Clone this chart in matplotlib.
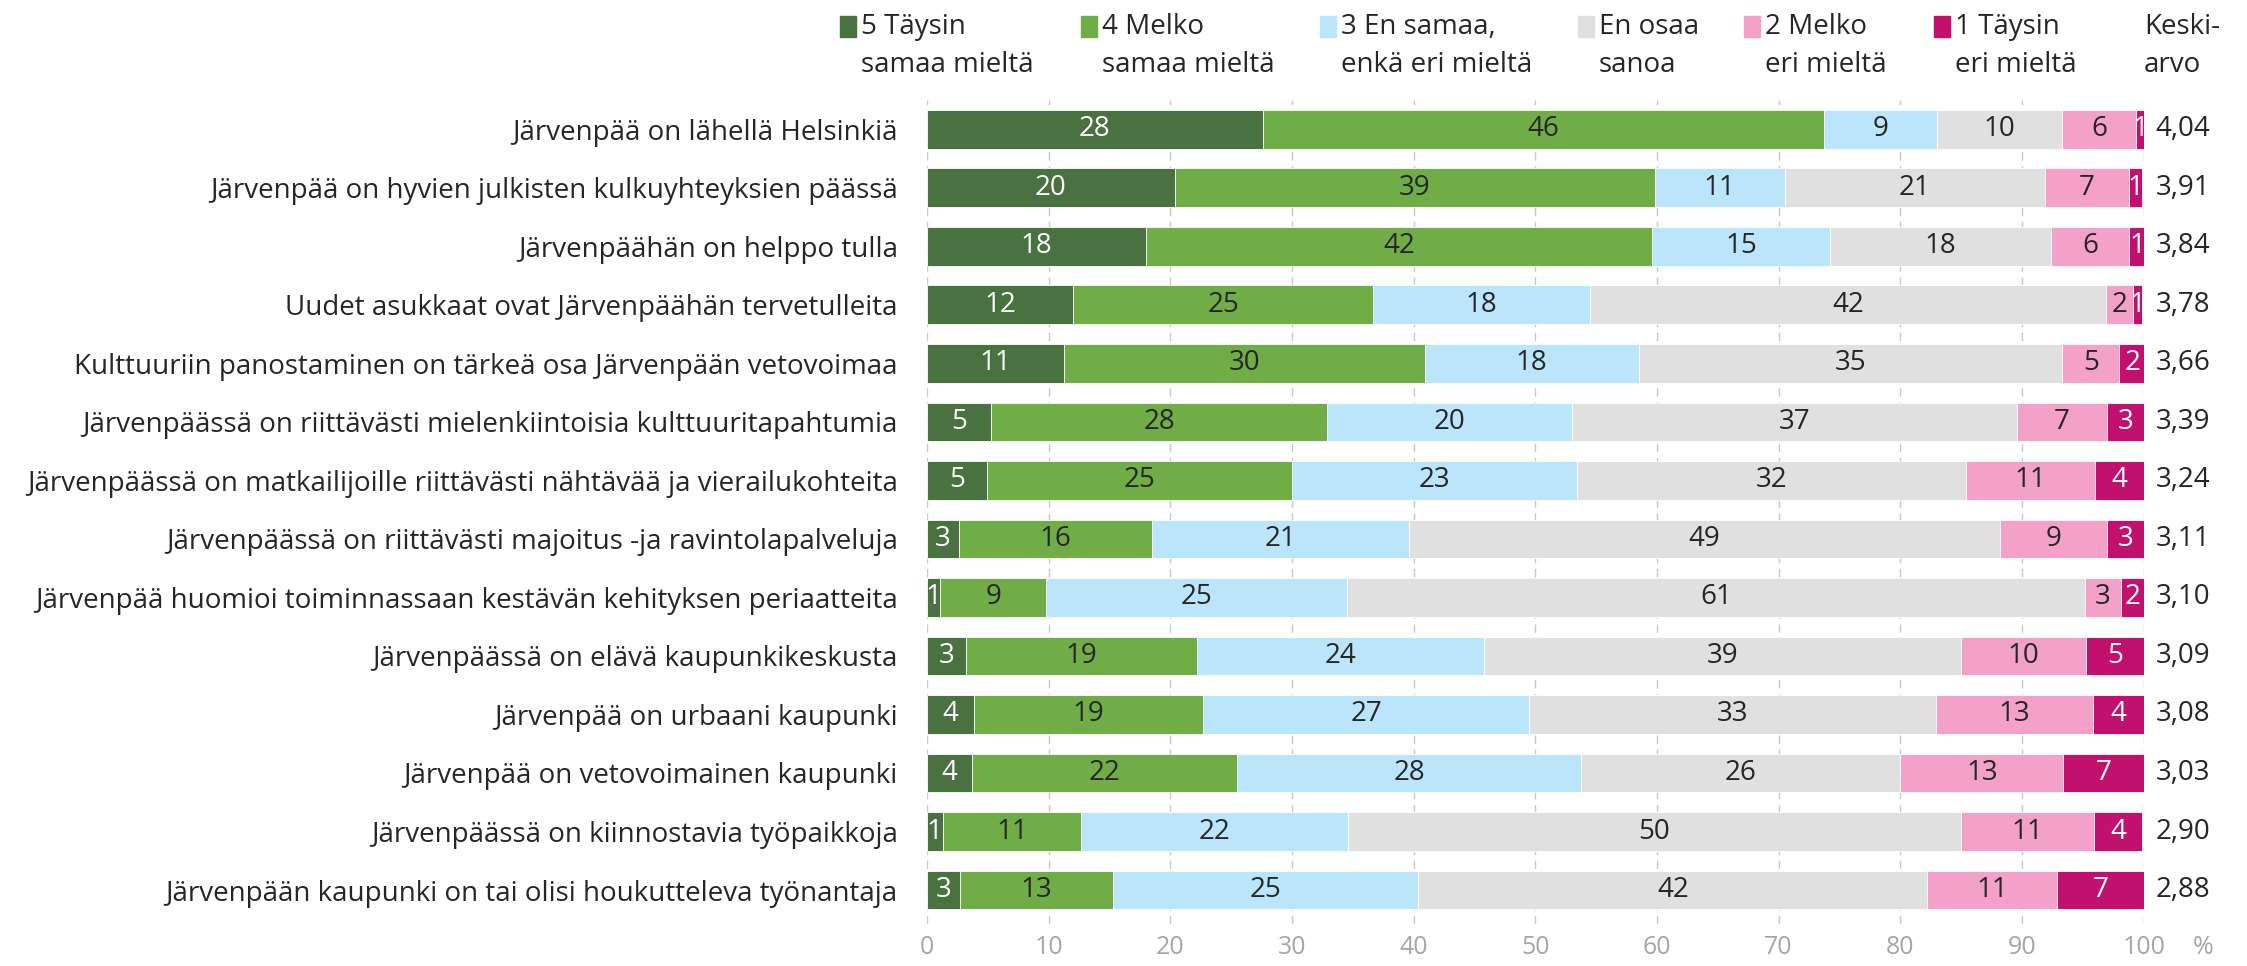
import matplotlib.pyplot as plt
from matplotlib.patches import Rectangle

plt.rcParams['font.family'] = ['Open Sans', 'DejaVu Sans']

# Data from the chart (shares in %, top row first)
statements = [
    "Järvenpää on lähellä Helsinkiä",
    "Järvenpää on hyvien julkisten kulkuyhteyksien päässä",
    "Järvenpäähän on helppo tulla",
    "Uudet asukkaat ovat Järvenpäähän tervetulleita",
    "Kulttuuriin panostaminen on tärkeä osa Järvenpään vetovoimaa",
    "Järvenpäässä on riittävästi mielenkiintoisia kulttuuritapahtumia",
    "Järvenpäässä on matkailijoille riittävästi nähtävää ja vierailukohteita",
    "Järvenpäässä on riittävästi majoitus -ja ravintolapalveluja",
    "Järvenpää huomioi toiminnassaan kestävän kehityksen periaatteita",
    "Järvenpäässä on elävä kaupunkikeskusta",
    "Järvenpää on urbaani kaupunki",
    "Järvenpää on vetovoimainen kaupunki",
    "Järvenpäässä on kiinnostavia työpaikkoja",
    "Järvenpään kaupunki on tai olisi houkutteleva työnantaja",
]
täysin_samaa = [27.6, 20.4, 18.0, 12.0, 11.3, 5.3, 4.9, 2.6, 1.1, 3.2, 3.9, 3.7, 1.3, 2.7]
melko_samaa = [46.1, 39.4, 41.6, 24.7, 29.6, 27.6, 25.1, 15.9, 8.7, 19.0, 18.8, 21.8, 11.4, 12.6]
ei_samaa_eri = [9.3, 10.7, 14.6, 17.8, 17.6, 20.1, 23.4, 21.1, 24.7, 23.6, 26.8, 28.3, 21.9, 25.1]
en_osaa = [10.3, 21.4, 18.2, 42.4, 34.8, 36.6, 32.0, 48.6, 60.7, 39.2, 33.4, 26.2, 50.4, 41.8]
melko_eri = [6.1, 6.9, 6.4, 2.2, 4.7, 7.4, 10.6, 8.8, 2.9, 10.3, 12.9, 13.4, 10.9, 10.7]
täysin_eri = [0.7, 1.1, 1.3, 0.8, 2.1, 3.1, 4.0, 3.1, 1.9, 4.7, 4.2, 6.6, 4.0, 7.1]
keskiarvo = ["4,04", "3,91", "3,84", "3,78", "3,66", "3,39", "3,24", "3,11", "3,10",
             "3,09", "3,08", "3,03", "2,90", "2,88"]

series = [täysin_samaa, melko_samaa, ei_samaa_eri, en_osaa, melko_eri, täysin_eri]
legend_labels = ["5 Täysin\nsamaa mieltä", "4 Melko\nsamaa mieltä", "3 En samaa,\nenkä eri mieltä",
                 "En osaa\nsanoa", "2 Melko\neri mieltä", "1 Täysin\neri mieltä"]
colors = ['#4A7140', '#70AD47', '#BAE5FA', '#E0E0E0', '#F3A1C8', '#C2106E']
text_colors = ['white', '#262626', '#262626', '#262626', '#262626', 'white']
fs = 20

fig = plt.figure(figsize=(22.47, 9.66), dpi=100)
ax = fig.add_axes([0.4125, 0.0435, 0.5415, 0.853])

y = list(range(len(statements)))
left = [0.0] * len(statements)
for vals, col, tcol in zip(series, colors, text_colors):
    bars = ax.barh(y, vals, left=left, height=0.66, color=col, edgecolor='white',
                   linewidth=0.6, zorder=2)
    for bar, v in zip(bars, vals):
        ax.text(bar.get_x() + bar.get_width() / 2, bar.get_y() + bar.get_height() / 2,
                f'{v:.0f}', ha='center', va='center', color=tcol, fontsize=fs, zorder=3)
    left = [a + b for a, b in zip(left, vals)]

# Mean column
for yi, m in zip(y, keskiarvo):
    ax.text(101.0, yi, m, ha='left', va='center', fontsize=fs, color='#262626', clip_on=False)

ax.set_xlim(0, 100)
ax.set_ylim(13.58, -0.5)
ax.set_yticks(y, statements, fontsize=fs, color='#262626')
ax.set_xticks(range(0, 101, 10))
ax.tick_params(axis='x', length=0, labelsize=18, labelcolor='#A6A6A6', pad=8)
ax.tick_params(axis='y', length=0, pad=21)
ax.annotate('%', xy=(104.9, 0), xycoords=('data', 'axes fraction'), xytext=(0, -8),
            textcoords='offset points', ha='center', va='top', fontsize=18,
            color='#A6A6A6', annotation_clip=False)
for s in ax.spines.values():
    s.set_visible(False)
ax.grid(axis='x', color='#C8C8C8', linestyle=(0, (6, 4)), linewidth=1, zorder=0)
ax.set_axisbelow(True)

# Legend row across the top
legend_x = [840, 1081, 1320, 1578, 1744, 1934]
W, H = 2247, 966
for lx, lab, col in zip(legend_x, legend_labels, colors):
    fig.patches.append(Rectangle((lx / W, 1 - 37 / H), 16 / W, 21 / H, color=col,
                                 transform=fig.transFigure, figure=fig))
    line1, line2 = lab.split('\n')
    fig.text((lx + 21) / W, 1 - 27 / H, line1, ha='left', va='center', fontsize=fs, color='#262626')
    fig.text((lx + 21) / W, 1 - 65 / H, line2, ha='left', va='center', fontsize=fs, color='#262626')
fig.text(2144 / W, 1 - 27 / H, 'Keski-', ha='left', va='center', fontsize=fs, color='#262626')
fig.text(2144 / W, 1 - 65 / H, 'arvo', ha='left', va='center', fontsize=fs, color='#262626')

plt.savefig('out.png', dpi=100)
